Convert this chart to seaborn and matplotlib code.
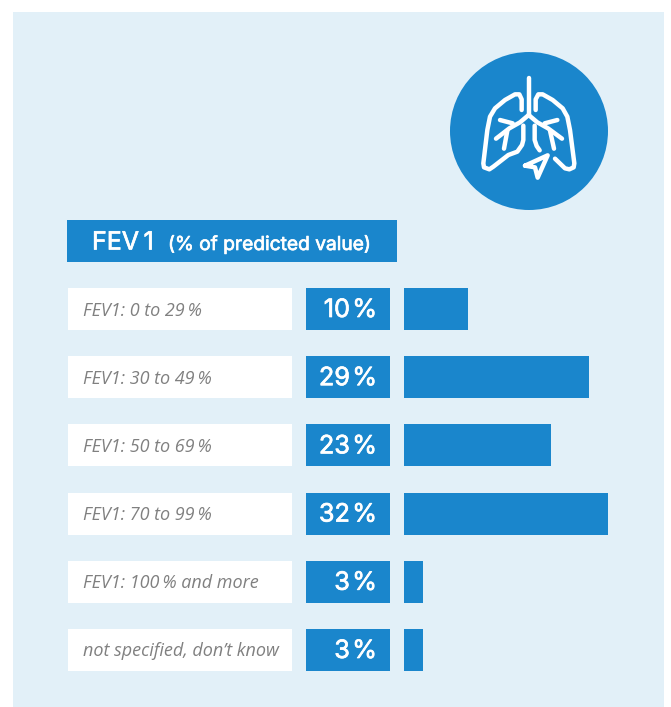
import numpy as np
import pandas as pd
import seaborn as sns
import matplotlib.pyplot as plt
import matplotlib.patheffects as pe
from matplotlib.patches import Rectangle, Circle

W, H = 671, 707
BLUE = '#1a86cc'
PANEL = '#e2f0f8'
GREY = '#808080'

categories = ['FEV1: 0 to 29\u2009%', 'FEV1: 30 to 49\u2009%', 'FEV1: 50 to 69\u2009%',
              'FEV1: 70 to 99\u2009%', 'FEV1: 100\u2009% and more', 'not specified, don\u2019t know']
values = [10, 29, 23, 32, 3, 3]
header_main = 'FEV\u20091'
header_sub = '(% of predicted value)'

df = pd.DataFrame({'category': categories, 'value': values})

sns.set_theme(style='white')
fig = plt.figure(figsize=(W / 100, H / 100), dpi=100, facecolor='white')

# full figure layer in pixel coordinates, for the panel and label boxes
bg = fig.add_axes([0, 0, 1, 1])
bg.set_xlim(0, W)
bg.set_ylim(H, 0)
bg.axis('off')
bg.add_patch(Rectangle((13, 12), 651, H - 12, color=PANEL, lw=0))

# slightly heavier white text, the installed Inter only comes in regular
heavy = [pe.withStroke(linewidth=0.5, foreground='white')]

# header
bg.add_patch(Rectangle((67, 220), 330, 42, color=BLUE, lw=0))
bg.text(92, 243, header_main, color='white', fontsize=18, family='Inter', va='center', path_effects=heavy)
bg.text(168, 244.5, header_sub, color='white', fontsize=13.8, family='Inter', va='center', path_effects=heavy)

# rows
row_h = 42
pitch = 68.2
for i, (c, v) in enumerate(zip(categories, values)):
    top = 288 + i * pitch
    bg.add_patch(Rectangle((68, top), 224, row_h, color='white', lw=0))
    bg.add_patch(Rectangle((306, top), 84, row_h, color=BLUE, lw=0))
    bg.text(83, top + row_h / 2 + 1.5, c, color=GREY, fontsize=13, family='Open Sans', style='italic', va='center')
    bg.text(377, top + row_h / 2 + 1.5, f'{v}\u200a%', color='white', fontsize=18.2, family='Inter', va='center',
            ha='right', path_effects=heavy)

# the bars, on their own axes lined up with the rows
ax = fig.add_axes([404 / W, 1 - (288 - (pitch - row_h) / 2 + 6 * pitch) / H, 204 / W, 6 * pitch / H])
ax.patch.set_alpha(0)
sns.barplot(data=df, x='value', y='category', color=BLUE, saturation=1, width=row_h / pitch, linewidth=0, ax=ax)
ax.set_xlim(0, 32)
ax.axis('off')

# lung icon
bg.add_patch(Circle((529, 131), 79, color=BLUE, lw=0))
def stroke(xs, ys, lw=3.2):
    bg.plot(430 + np.array(xs) / 3, 60 + np.array(ys) / 3, color='white', lw=lw,
            solid_capstyle='round', solid_joinstyle='round')

stroke([296, 296], [55, 165])
stroke([296, 270, 238, 198], [165, 187, 205, 236])
stroke([296, 322, 354, 396], [165, 187, 205, 236])
stroke([210, 248], [180, 190])
stroke([382, 344], [180, 190])
stroke([232, 222], [212, 266])
stroke([360, 372], [212, 266])
# left lobe
stroke([275, 275, 268, 255, 225, 195, 180, 172, 160, 162, 178, 190, 235, 262, 276, 280, 280],
       [150, 118, 103, 103, 120, 145, 170, 210, 310, 322, 328, 320, 285, 275, 255, 240, 197])
# right lobe
stroke([317, 317, 325, 338, 368, 398, 412, 420, 433, 431, 418, 405, 375],
       [150, 118, 103, 103, 120, 145, 170, 210, 310, 322, 328, 325, 296])
stroke([314, 314, 320, 329], [197, 240, 258, 271])
# arrow
stroke([285, 353, 323, 315, 285], [317, 286, 353, 322, 317])

fig.savefig('out.png', dpi=100)
